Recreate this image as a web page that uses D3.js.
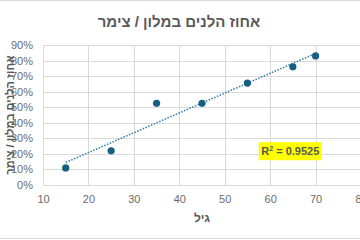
<!DOCTYPE html>
<html>
<head>
<meta charset="utf-8">
<script src="https://cdn.jsdelivr.net/npm/d3@7"></script>
<style>
  html, body { margin: 0; padding: 0; background: #fff; }
  svg { display: block; font-family: "Liberation Sans", Arial, sans-serif; }
</style>
</head>
<body>
<svg id="chart"></svg>
<script>
// ages and share of guests staying in a hotel / zimmer
const ages = [15, 25, 35, 45, 55, 65, 70];
const shares = [0.11, 0.22, 0.525, 0.525, 0.655, 0.76, 0.83];
const xTicks = [10, 20, 30, 40, 50, 60, 70, 80];
const yTicks = [0, 0.1, 0.2, 0.3, 0.4, 0.5, 0.6, 0.7, 0.8, 0.9];
const r2Label = "0.9525";
const title = "אחוז הלנים במלון / צימר";
const xTitle = "גיל";
const yTitle = "אחוז הלנים במלון / צימר";

const width = 360, height = 240;
const margin = { top: 45, right: -1, bottom: 55, left: 43 };
const innerW = width - margin.left - margin.right;
const innerH = height - margin.top - margin.bottom;
const textColor = "#595959";

const svg = d3.select("#chart")
    .attr("width", width)
    .attr("height", height);

// chart border (only top and bottom fall inside the picture)
svg.append("rect")
    .attr("x", -5).attr("y", 0.5)
    .attr("width", width + 10).attr("height", 238)
    .attr("fill", "none")
    .attr("stroke", "#d9d9d9");

const chart = svg.append("g")
    .attr("transform", `translate(${margin.left}, ${margin.top})`);

const xscale = d3.scaleLinear().domain([10, 80]).range([0, innerW]);
const yscale = d3.scaleLinear().domain([0, 0.9]).range([innerH, 0]);

// grid
chart.append("g")
    .selectAll("line")
    .data(yTicks)
    .join("line")
    .attr("x1", 0).attr("x2", innerW)
    .attr("y1", d => Math.round(yscale(d)) + 0.5)
    .attr("y2", d => Math.round(yscale(d)) + 0.5)
    .attr("stroke", "#d9d9d9");

chart.append("g")
    .selectAll("line")
    .data(xTicks)
    .join("line")
    .attr("x1", d => Math.round(xscale(d)) + 0.5)
    .attr("x2", d => Math.round(xscale(d)) + 0.5)
    .attr("y1", 0).attr("y2", innerH)
    .attr("stroke", "#d9d9d9");

// axes
const xaxis = d3.axisBottom(xscale)
    .tickValues(xTicks)
    .tickSize(0)
    .tickPadding(10);
const yaxis = d3.axisLeft(yscale)
    .tickValues(yTicks)
    .tickFormat(d3.format(".0%"))
    .tickSize(0)
    .tickPadding(10);

const xg = chart.append("g")
    .attr("transform", `translate(0, ${innerH})`)
    .call(xaxis);
const yg = chart.append("g").call(yaxis);

[xg, yg].forEach(g => {
    g.select(".domain").remove();
    g.selectAll("text")
        .attr("fill", "#6b6b6b")
        .style("font-size", "11px");
});

// linear trendline (least squares)
const mx = d3.mean(ages), my = d3.mean(shares);
const sxy = d3.sum(ages, (a, i) => (a - mx) * (shares[i] - my));
const sxx = d3.sum(ages, a => (a - mx) * (a - mx));
const slope = sxy / sxx;
const intercept = my - slope * mx;

const xs = d3.extent(ages);
chart.append("line")
    .attr("x1", xscale(xs[0])).attr("y1", yscale(intercept + slope * xs[0]))
    .attr("x2", xscale(xs[1])).attr("y2", yscale(intercept + slope * xs[1]))
    .attr("stroke", "#2f7ea8")
    .attr("stroke-width", 1.5)
    .attr("stroke-dasharray", "1.5,1.5");

// points
chart.append("g")
    .selectAll("circle")
    .data(ages)
    .join("circle")
    .attr("cx", d => xscale(d))
    .attr("cy", (d, i) => yscale(shares[i]))
    .attr("r", 3.6)
    .attr("fill", "#156082");

// R² label
const label = chart.append("g")
    .attr("transform", `translate(${xscale(57.5)}, ${yscale(0.275)})`);
label.append("rect")
    .attr("width", 63).attr("height", 18)
    .attr("fill", "#ffff00");
const lt = label.append("text")
    .attr("x", 31.5).attr("y", 13)
    .attr("text-anchor", "middle")
    .attr("fill", textColor)
    .style("font-size", "11px")
    .style("font-weight", "bold");
lt.append("tspan").text("R");
lt.append("tspan").attr("dy", -4).style("font-size", "7px").text("2");
lt.append("tspan").attr("dy", 4).text(" = " + r2Label);

// titles
svg.append("text")
    .attr("x", 179)
    .attr("y", 27)
    .attr("text-anchor", "middle")
    .attr("fill", textColor)
    .style("font-size", "15px")
    .style("font-weight", "bold")
    .text(title);

svg.append("text")
    .attr("x", margin.left + innerW / 2)
    .attr("y", 222)
    .attr("text-anchor", "middle")
    .attr("fill", textColor)
    .style("font-size", "12px")
    .style("font-weight", "bold")
    .text(xTitle);

svg.append("text")
    .attr("transform", "rotate(-90)")
    .attr("x", -(margin.top + innerH / 2))
    .attr("y", 14)
    .attr("text-anchor", "middle")
    .attr("fill", textColor)
    .style("font-size", "11px")
    .style("font-weight", "bold")
    .text(yTitle);
</script>
</body>
</html>
